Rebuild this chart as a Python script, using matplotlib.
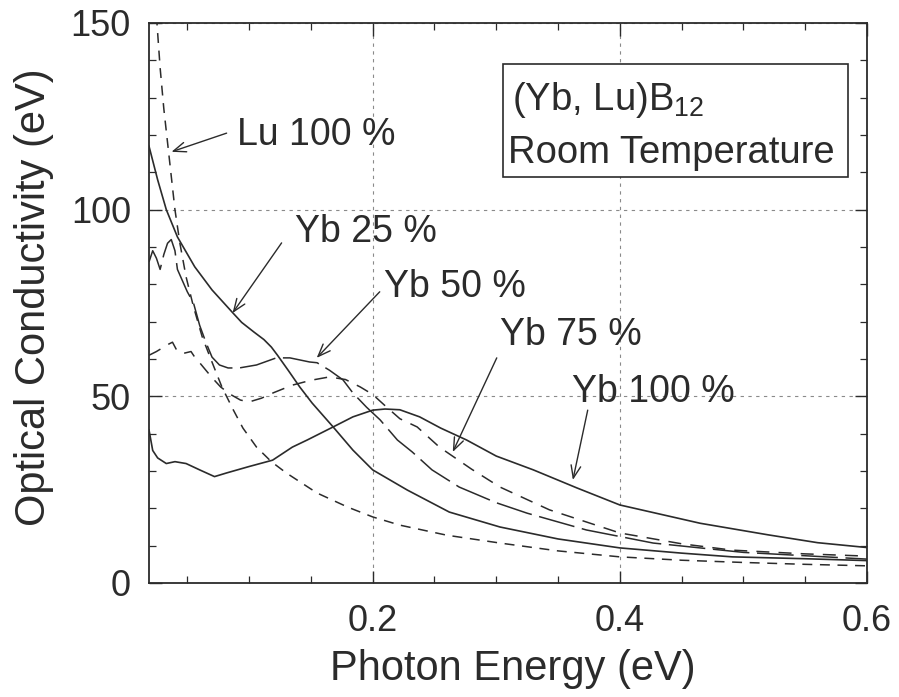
import matplotlib
matplotlib.use("Agg")
import matplotlib.pyplot as plt
import numpy as np
from matplotlib.patches import Rectangle

plt.rcParams['font.family'] = ['Liberation Sans', 'DejaVu Sans']
plt.rcParams['mathtext.fontset'] = 'custom'
plt.rcParams['mathtext.rm'] = 'Liberation Sans'

INK = '#2b2b2b'

# ---- data (photon energy in eV, optical conductivity) ----
lu100_x = [0.025, 0.028, 0.031, 0.034, 0.037, 0.040, 0.044, 0.049, 0.055, 0.062, 0.069,
           0.078, 0.087, 0.095, 0.106, 0.118, 0.130, 0.155, 0.180, 0.200, 0.222, 0.260,
           0.303, 0.350, 0.400, 0.450, 0.500, 0.550, 0.600]
lu100_y = [152, 138, 127, 118, 109, 100, 91, 82, 74, 66, 60,
           52.5, 46.5, 41.5, 36.4, 32.5, 29.5, 24.1, 20.3, 17.7, 15.5, 12.8,
           10.7, 8.6, 7.0, 6.1, 5.5, 5.0, 4.6]

yb25_x = [0.019, 0.026, 0.033, 0.042, 0.056, 0.070, 0.087, 0.094, 0.104, 0.112, 0.118,
          0.123, 0.132, 0.141, 0.151, 0.168, 0.184, 0.200, 0.228, 0.262, 0.303, 0.350,
          0.400, 0.450, 0.491, 0.550, 0.600]
yb25_y = [117, 108, 100, 92.7, 84.7, 78.5, 72.3, 69.8, 67.2, 65.2, 63.2,
          61.0, 56.8, 52.5, 48.2, 41.8, 35.6, 30.3, 24.9, 19.0, 15.0, 11.8,
          9.4, 8.0, 7.0, 6.5, 6.0]

yb50_x = [0.019, 0.022, 0.025, 0.028, 0.031, 0.034, 0.037, 0.040, 0.042, 0.046, 0.050,
          0.055, 0.060, 0.065, 0.070, 0.076, 0.083, 0.092, 0.106, 0.122, 0.133, 0.149,
          0.155, 0.165, 0.176, 0.184, 0.195, 0.206, 0.220, 0.232, 0.248, 0.270, 0.300,
          0.325, 0.373, 0.427, 0.500, 0.600]
yb50_y = [86, 89, 87, 84, 88, 91, 92, 89, 84, 81, 78,
          75, 69, 64.5, 60.5, 58.4, 57.6, 57.6, 58.4, 60.3, 60.3, 59.2,
          59.0, 57.0, 54.4, 50.9, 47.1, 43.7, 38.3, 35.1, 30.3, 25.7, 21.5,
          18.7, 14.2, 10.7, 8.2, 6.4]

yb75_x = [0.019, 0.025, 0.030, 0.035, 0.038, 0.042, 0.048, 0.053, 0.056, 0.060, 0.065,
          0.070, 0.077, 0.085, 0.093, 0.100, 0.110, 0.120, 0.135, 0.150, 0.165, 0.178,
          0.190, 0.200, 0.210, 0.222, 0.236, 0.254, 0.280, 0.303, 0.343, 0.400, 0.450,
          0.491, 0.550, 0.600]
yb75_y = [61, 62, 63, 64, 64.5, 62, 61.6, 62, 60.5, 59, 57,
          55, 52.5, 50.5, 49, 48.5, 49.5, 51, 53, 54.3, 55.2, 54.5,
          52.5, 50.5, 47.5, 44, 41.8, 36.4, 30.5, 25.7, 19.6, 13.4, 10.5,
          8.8, 7.8, 7.2]

yb100_x = [0.019, 0.022, 0.026, 0.033, 0.040, 0.049, 0.060, 0.072, 0.082, 0.100, 0.119,
           0.135, 0.147, 0.168, 0.184, 0.200, 0.210, 0.222, 0.238, 0.255, 0.276, 0.300,
           0.330, 0.365, 0.400, 0.465, 0.520, 0.560, 0.600]
yb100_y = [41, 35.5, 33.5, 32, 32.5, 32, 30.3, 28.5, 29.5, 31.2, 32.9,
           36.4, 38.3, 41.8, 44.5, 46.3, 46.6, 46.4, 44.5, 41.5, 38.3, 34.0,
           30.3, 25.5, 20.9, 16.0, 12.9, 10.8, 9.5]

xticks = [0.2, 0.4, 0.6]
xticklabels = ['0.2', '0.4', '0.6']
yticks = [0, 50, 100, 150]
yticklabels = ['0', '50', '100', '150']

fig = plt.figure(figsize=(8.99, 6.97), dpi=100)
ax = fig.add_axes([149/899, 1 - 583/697, 718/899, 560/697])

ax.plot(lu100_x, lu100_y, color=INK, lw=1.1, linestyle=(0, (6.5, 5)))
ax.plot(yb25_x, yb25_y, color=INK, lw=1.2, linestyle='-')
ax.plot(yb50_x, yb50_y, color=INK, lw=1.1, linestyle=(0, (24, 5)))
ax.plot(yb75_x, yb75_y, color=INK, lw=1.1, linestyle=(0, (8.5, 6)))
ax.plot(yb100_x, yb100_y, color=INK, lw=1.2, linestyle='-')

ax.set_xlim(0.019, 0.6)
ax.set_ylim(0, 150)
ax.set_xticks(xticks)
ax.set_xticklabels(xticklabels)
ax.set_yticks(yticks)
ax.set_yticklabels(yticklabels)
ax.set_xticks(np.arange(0.05, 0.6, 0.05), minor=True)
ax.set_yticks(np.arange(10, 150, 10), minor=True)
ax.tick_params(which='both', direction='in', top=True, right=True, colors=INK,
               labelcolor=INK)
ax.tick_params(which='major', length=9, width=1.0, labelsize=26)
ax.tick_params(which='minor', length=5, width=0.9)
ax.tick_params(axis='x', which='major', pad=15)
ax.tick_params(axis='y', which='major', pad=13)
for s in ax.spines.values():
    s.set_color(INK)
    s.set_linewidth(1.3)

ax.grid(True, which='major', color='#8a8a8a', linestyle=(0, (3, 4)), linewidth=0.8)

ax.set_xlabel('Photon Energy (eV)', fontsize=30, color=INK)
ax.set_ylabel('Optical Conductivity (eV)', fontsize=30, color=INK)
ax.xaxis.set_label_coords(0.507, -0.117)
ax.yaxis.set_label_coords(-0.132, 0.51)

# annotations: label, text position (x, y), arrow tail, arrow tip
ann_text = ['Lu 100 %', 'Yb 25 %', 'Yb 50 %', 'Yb 75 %', 'Yb 100 %']
ann_xy = [(0.0899, 117.3), (0.1368, 91.3), (0.2089, 76.6), (0.3028, 63.8), (0.3611, 48.5)]
arrow_tail = [(0.0818, 120.5), (0.1263, 91.1), (0.2057, 78.0), (0.3004, 60.3), (0.374, 46.3)]
arrow_tip = [(0.0372, 115.5), (0.0866, 72.3), (0.1547, 60.3), (0.2648, 35.1), (0.362, 27.6)]

for t, p, a, b in zip(ann_text, ann_xy, arrow_tail, arrow_tip):
    ax.text(p[0], p[1], t, fontsize=27, color=INK, ha='left', va='baseline')
    ax.annotate('', xy=b, xytext=a,
                arrowprops=dict(arrowstyle='->,head_length=0.9,head_width=0.35',
                                color=INK, lw=1.0, shrinkA=0, shrinkB=0))

# info box
ax.add_patch(Rectangle((0.493, 0.725), 0.4805, 0.202, transform=ax.transAxes,
                       facecolor='white', edgecolor=INK, lw=1.2, zorder=5))
ax.text(0.5056, 0.8446, r'(Yb, Lu)B$\mathregular{_{12}}$', transform=ax.transAxes,
        fontsize=27.5, color=INK, ha='left', va='baseline', zorder=6)
ax.text(0.500, 0.750, 'Room Temperature', transform=ax.transAxes,
        fontsize=27.5, color=INK, ha='left', va='baseline', zorder=6)

fig.savefig('out.png', dpi=100, facecolor='white')
